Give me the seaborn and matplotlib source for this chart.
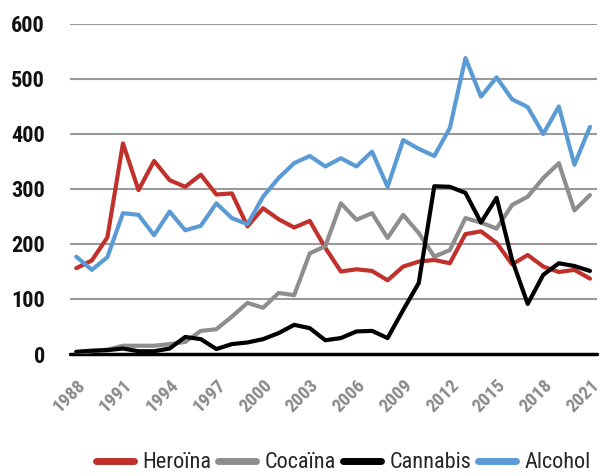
import pandas as pd
import numpy as np
import matplotlib
matplotlib.use('Agg')
import matplotlib.pyplot as plt
import matplotlib.transforms as mtransforms
import seaborn as sns
from matplotlib import font_manager

years = list(range(1988, 2022))
heroina = [156, 170, 212, 383, 298, 351, 316, 304, 326, 290, 292, 232, 265, 245, 230, 242,
           193, 150, 154, 151, 134, 159, 168, 171, 165, 218, 223, 202, 163, 180, 159, 149, 153, 137]
cocaina = [3, 5, 8, 15, 15, 15, 18, 22, 42, 45, 68, 93, 84, 111, 107, 183,
           196, 274, 244, 256, 211, 253, 220, 177, 189, 247, 239, 228, 271, 286, 320, 347, 261, 289]
cannabis = [4, 6, 7, 10, 5, 5, 10, 31, 27, 9, 18, 21, 27, 38, 53, 47,
            25, 29, 41, 42, 29, 80, 129, 305, 304, 293, 239, 284, 171, 91, 144, 165, 160, 151]
alcohol = [177, 153, 176, 256, 253, 216, 259, 225, 233, 274, 247, 236, 286, 320, 347, 360,
           341, 356, 341, 368, 304, 389, 373, 360, 411, 538, 468, 503, 463, 449, 400, 450, 344, 413]
series_names = ['Heroïna', 'Cocaïna', 'Cannabis', 'Alcohol']
colors = ['#C0312B', '#8E8E8E', '#000000', '#5B9BD5']
y_ticks = [0, 100, 200, 300, 400, 500, 600]
x_ticks = list(range(1988, 2022, 3))

df = pd.DataFrame({'year': years * 4,
                   'value': heroina + cocaina + cannabis + alcohol,
                   'serie': [n for n in series_names for _ in years]})

sns.set_style('white')
# narrow font if one is there, like the Arial Narrow of the original
names = {f.name for f in font_manager.fontManager.ttflist}
fam = 'Liberation Sans'
for cand in ['Liberation Sans Narrow', 'Roboto Condensed', 'Noto Sans Condensed',
             'Open Sans Condensed', 'DejaVu Sans Condensed']:
    if cand in names:
        fam = cand
        break
plt.rcParams['font.family'] = [fam, 'DejaVu Sans']

fig = plt.figure(figsize=(6.01, 4.76), dpi=100)
ax = fig.add_axes([0.1165, 0.2563, 0.8768, 0.6933])
sns.lineplot(data=df, x='year', y='value', hue='serie', hue_order=series_names,
             palette=colors, linewidth=3, ax=ax, legend=True)

ax.set_xlim(1987.6, 2021.45)
ax.set_ylim(0, 600)
ax.set_yticks(y_ticks)
ax.set_yticklabels([str(v) for v in y_ticks], fontsize=16, fontweight='bold', color='#111111')
ax.set_xticks(x_ticks)
ax.set_xticklabels([str(v) for v in x_ticks], rotation=45, ha='right', rotation_mode='anchor',
                   fontsize=13.5, fontweight='bold', color='#8A8A8A')
shift = mtransforms.ScaledTranslation(-8 / 100, 0, fig.dpi_scale_trans)
for lab in ax.get_xticklabels():
    lab.set_transform(lab.get_transform() + shift)
ax.tick_params(axis='both', length=0)
ax.tick_params(axis='y', pad=18)
ax.tick_params(axis='x', pad=16)
for v in y_ticks[1:]:
    ax.axhline(v, color='#9A9A9A', lw=1.5, zorder=0)
ax.axhline(0, color='black', lw=2.5, zorder=1, clip_on=False)
for s in ax.spines.values():
    s.set_visible(False)
ax.set_xlabel('')
ax.set_ylabel('')

handles, labels = ax.get_legend_handles_labels()
leg = ax.legend(handles, labels, loc='center', bbox_to_anchor=(0.519, -0.33), ncol=4,
                frameon=False, fontsize=16, handlelength=1.7, handletextpad=0.4,
                columnspacing=0.3)
for h in leg.legend_handles:
    h.set_linewidth(5)

fig.savefig('out.png', dpi=100)
